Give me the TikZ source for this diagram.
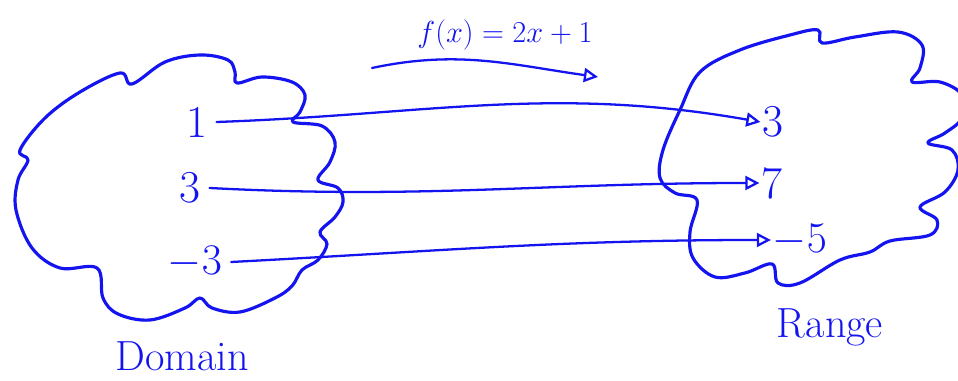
\documentclass[tikz,border=0pt]{standalone}
\usepackage{amsmath,amssymb}
\usetikzlibrary{arrows.meta}
\definecolor{ink}{HTML}{1414F0}

\begin{document}
\begin{tikzpicture}[x=0.02cm,y=0.02cm,line cap=round,line join=round,
    num/.style={text=ink,inner sep=1pt,font=\fontsize{26}{26}\selectfont},
    setlbl/.style={text=ink,inner sep=0pt,font=\fontsize{24}{24}\selectfont},
    maparrow/.style={draw=ink,line width=1.3pt,-{Triangle[open,length=8pt,width=8pt]}}]

  \useasboundingbox (0,0) rectangle (958,381);

  % the two clouds
  \begin{scope}[line width=1.8pt,draw=ink]
    \draw[ink] plot[smooth cycle,tension=0.6] coordinates
      {(20,231) (45,263) (80,289) (120,308) (132,297) (165,319) (200,326)
       (228,321) (235,309) (237,298) (262,304) (292,299) (305,286) (300,269)
       (293,259) (322,255) (335,239) (330,219) (318,201) (338,193) (343,179)
       (335,164) (320,149) (327,137) (318,121) (302,111) (292,95) (275,83)
       (240,69) (212,73) (200,83) (185,73) (150,61) (118,67) (103,83) (97,113)
       (60,113) (32,133) (16,171) (18,201) (28,221)};
    \draw[ink] plot[smooth cycle,tension=0.6] coordinates
      {(700,309) (740,331) (790,346) (818,351) (822,338) (855,344) (898,349)
       (922,336) (920,313) (912,299) (940,299) (962,286) (962,263) (945,248)
       (928,238) (952,231) (958,211) (945,189) (920,174) (937,161) (930,146)
       (890,140) (870,129) (840,121) (800,98) (778,98) (772,117) (745,108)
       (715,104) (693,123) (690,149) (697,181) (675,188) (660,203) (663,231)
       (680,271)};
  \end{scope}

  % domain and range values
  \node[num] (d1) at (197,259) {1};
  \node[num] (d3) at (190,193) {3};
  \node[num] (dm3) at (195,119) {$-3$};
  \node[num] (r3) at (773,259) {3};
  \node[num] (r7) at (772,198) {7};
  \node[num] (rm5) at (800,141) {$-5$};

  \node[setlbl] (dom) at (182,25) {Domain};
  \node[setlbl] (ran) at (830,54) {Range};

  % mapping arrows
  \draw[maparrow] ([xshift=4pt]d1.east) to[out=2,in=170] (r3.west);
  \draw[maparrow] ([xshift=4pt]d3.east) to[out=-3,in=180] (r7.west);
  \draw[maparrow] ([xshift=4pt]dm3.east) to[out=3,in=180] (rm5.west);

  % the rule
  \node[text=ink,inner sep=0pt,font=\fontsize{19}{19}\selectfont]
    (rule) at (505,346) {$f(x)=2x+1$};
  \coordinate (fa) at (372,313);
  \coordinate (fb) at (598,304);
  \draw[maparrow] (fa) to[out=12,in=172] (fb);

\end{tikzpicture}
\end{document}
